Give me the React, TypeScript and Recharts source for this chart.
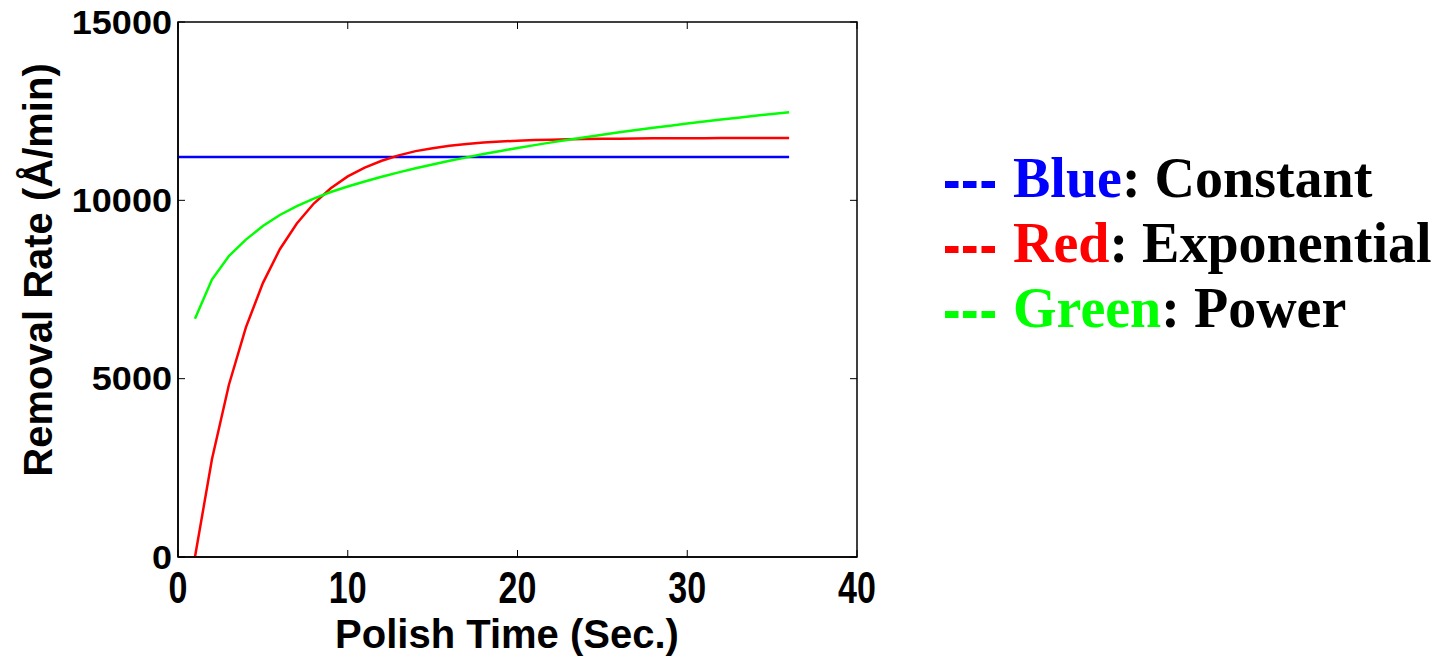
import React from 'react';
import { LineChart, Line, XAxis, YAxis, ReferenceArea } from 'recharts';

document.body.style.margin = '0';

// polish time (s), 0..36
const times = [0, 1, 2, 3, 4, 5, 6, 7, 8, 9, 10, 11, 12, 13, 14, 15, 16, 17, 18, 19, 20, 21, 22, 23, 24, 25, 26, 27, 28, 29, 30, 31, 32, 33, 34, 35, 36];

// removal rate (A/min) per model
const constantRate = [11215, 11215, 11215, 11215, 11215, 11215, 11215, 11215, 11215, 11215, 11215, 11215, 11215, 11215, 11215, 11215, 11215, 11215, 11215, 11215, 11215, 11215, 11215, 11215, 11215, 11215, 11215, 11215, 11215, 11215, 11215, 11215, 11215, 11215, 11215, 11215, 11215];
const exponentialRate = [null, 0, 2740, 4830, 6440, 7680, 8630, 9350, 9910, 10340, 10670, 10920, 11110, 11260, 11380, 11460, 11530, 11580, 11620, 11650, 11670, 11690, 11700, 11710, 11720, 11725, 11730, 11735, 11738, 11740, 11742, 11744, 11745, 11746, 11747, 11748, 11748];
const powerRate = [null, 6680, 7780, 8440, 8900, 9280, 9590, 9840, 10050, 10233, 10388, 10530, 10662, 10784, 10899, 11007, 11109, 11205, 11297, 11385, 11468, 11548, 11625, 11699, 11770, 11839, 11906, 11970, 12032, 12092, 12151, 12208, 12264, 12318, 12370, 12421, 12471];

const xTicks = [0, 10, 20, 30, 40];
const yTicks = [0, 5000, 10000, 15000];

const legendItems = [
  { color: '#0000ff', name: 'Blue', label: 'Constant' },
  { color: '#ff0000', name: 'Red', label: 'Exponential' },
  { color: '#00ff00', name: 'Green', label: 'Power' },
];

const data = times.map((t, i) => ({
  t,
  constant: constantRate[i],
  exponential: exponentialRate[i],
  power: powerRate[i],
}));

const W = 1437;
const H = 658;
const PLOT_TOP = 22;
const PLOT_BOTTOM = 557;
const PLOT_LEFT = 178;
const PLOT_RIGHT = 857;
const SANS = '"Liberation Sans", Arial, sans-serif';
const SERIF = '"Liberation Serif", "Times New Roman", serif';

const XTick = (props: any) => {
  const { payload } = props;
  const cx = payload.coordinate;
  return (
    <g>
      <line x1={cx} x2={cx} y1={PLOT_BOTTOM} y2={PLOT_BOTTOM - 7} stroke="#000" strokeWidth={1} />
      <line x1={cx} x2={cx} y1={PLOT_TOP} y2={PLOT_TOP + 7} stroke="#000" strokeWidth={1} />
      <text
        transform={`translate(${cx},603) scale(1,1.3)`}
        textAnchor="middle"
        fontFamily={SANS}
        fontWeight="bold"
        fontSize={34}
        fill="#000"
      >
        {payload.value}
      </text>
    </g>
  );
};

const YTick = (props: any) => {
  const { payload } = props;
  const cy = payload.coordinate;
  return (
    <g>
      <line x1={PLOT_LEFT} x2={PLOT_LEFT + 7} y1={cy} y2={cy} stroke="#000" strokeWidth={1} />
      <line x1={PLOT_RIGHT} x2={PLOT_RIGHT - 7} y1={cy} y2={cy} stroke="#000" strokeWidth={1} />
      <text
        transform={`translate(172,${cy + 11.5}) scale(1.06,0.95)`}
        textAnchor="end"
        fontFamily={SANS}
        fontWeight="bold"
        fontSize={34}
        fill="#000"
      >
        {payload.value}
      </text>
    </g>
  );
};

const Dashes = ({ color }: { color: string }) => (
  <svg width={50} height={7} style={{ verticalAlign: '9px', marginRight: 18 }}>
    <rect x={0} y={0} width={13.5} height={7} fill={color} />
    <rect x={18} y={0} width={13.5} height={7} fill={color} />
    <rect x={36.5} y={0} width={13.5} height={7} fill={color} />
  </svg>
);

const App: React.FC = () => {
  return (
    <div style={{ position: 'relative', width: W, height: H, background: '#fff', overflow: 'hidden' }}>
      <LineChart
        width={W}
        height={H}
        data={data}
        margin={{ top: PLOT_TOP, right: W - PLOT_RIGHT, bottom: H - PLOT_BOTTOM - 60, left: PLOT_LEFT - 80 }}
      >
        <XAxis
          dataKey="t"
          type="number"
          domain={[0, 40]}
          ticks={xTicks}
          interval={0}
          height={60}
          tickLine={false}
          axisLine={{ stroke: '#000', strokeWidth: 1.5 }}
          tick={<XTick />}
          label={{
            content: () => (
              <text x={507} y={648} textAnchor="middle" fontFamily={SANS} fontWeight="bold" fontSize={40} fill="#000">
                Polish Time (Sec.)
              </text>
            ),
          }}
        />
        <YAxis
          type="number"
          domain={[0, 15000]}
          ticks={yTicks}
          interval={0}
          width={80}
          tickLine={false}
          axisLine={{ stroke: '#000', strokeWidth: 1.5 }}
          tick={<YTick />}
          label={{
            content: () => (
              <text
                x={52}
                y={270}
                transform="rotate(-90, 52, 270)"
                textAnchor="middle"
                fontFamily={SANS}
                fontWeight="bold"
                fontSize={40}
                fill="#000"
              >
                Removal Rate (Å/min)
              </text>
            ),
          }}
        />
        <ReferenceArea x1={0} x2={40} y1={0} y2={15000} fill="none" stroke="#000" strokeWidth={1.5} />
        <Line type="linear" dataKey="constant" stroke="#0000ff" strokeWidth={2.5} dot={false} isAnimationActive={false} />
        <Line type="linear" dataKey="exponential" stroke="#ff0000" strokeWidth={2.5} dot={false} isAnimationActive={false} />
        <Line type="linear" dataKey="power" stroke="#00ff00" strokeWidth={2.5} dot={false} isAnimationActive={false} />
      </LineChart>
      <div
        style={{
          position: 'absolute',
          left: 945,
          top: 145.5,
          fontFamily: SERIF,
          fontWeight: 'bold',
          fontSize: 56,
          lineHeight: '65px',
          whiteSpace: 'nowrap',
        }}
      >
        {legendItems.map((item) => (
          <div key={item.name}>
            <Dashes color={item.color} />
            <span style={{ color: item.color }}>{item.name}</span>
            <span style={{ color: '#000' }}>: {item.label}</span>
          </div>
        ))}
      </div>
    </div>
  );
};

export default App;
